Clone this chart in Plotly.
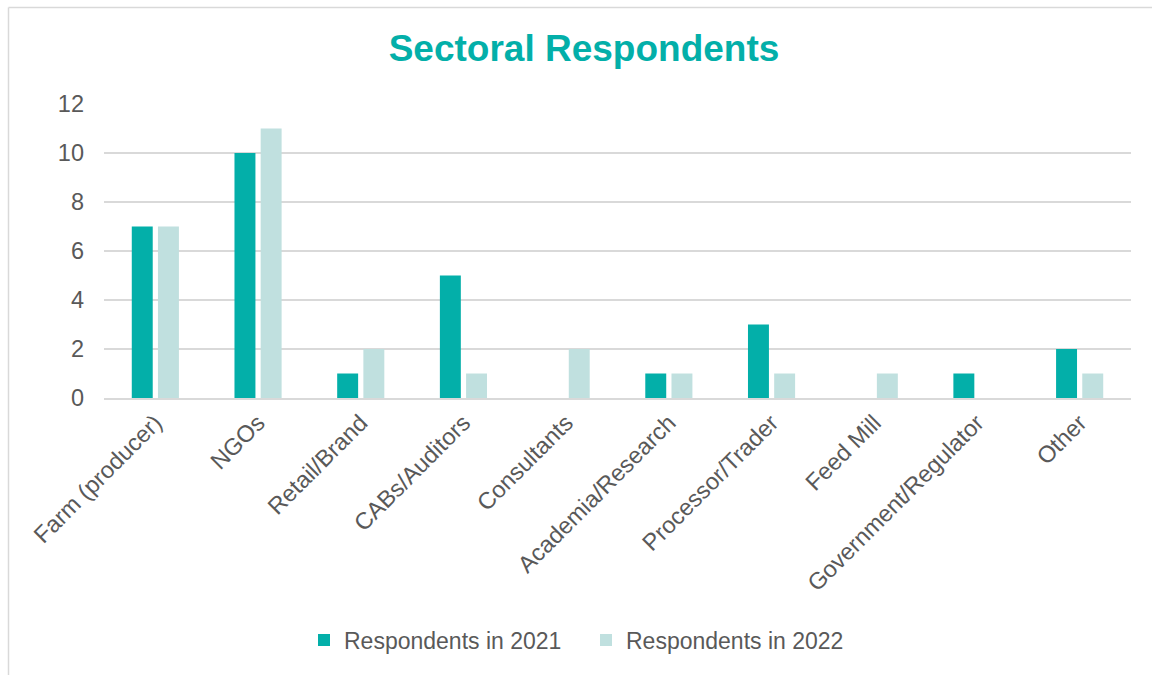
import plotly.graph_objects as go

categories = ["Farm (producer)", "NGOs", "Retail/Brand", "CABs/Auditors", "Consultants",
              "Academia/Research", "Processor/Trader", "Feed Mill", "Government/Regulator", "Other"]
resp_2021 = [7, 10, 1, 5, 0, 1, 3, 0, 1, 2]
resp_2022 = [7, 11, 2, 1, 2, 1, 1, 1, 0, 1]
y_ticks = [0, 2, 4, 6, 8, 10, 12]

W, H = 1152, 675
L, T = 104, 104
R = W - 1131
B = H - 398
pw, ph = W - L - R, H - T - B

fig = go.Figure()
fig.add_trace(go.Bar(x=categories, y=resp_2021, name="Respondents in 2021",
                     marker=dict(color="#03AFA9", line=dict(width=0))))
fig.add_trace(go.Bar(x=categories, y=resp_2022, name="Respondents in 2022",
                     marker=dict(color="#C0E0DF", line=dict(width=0))))

FONT = "Liberation Sans, Arial, sans-serif"
border = dict(color="#D9D9D9", width=1.5)
bx = (8.5 - L) / pw
by_top = (T + ph - 7.5) / ph
fig.update_layout(
    width=W, height=H,
    margin=dict(l=L, r=R, t=T, b=B, autoexpand=False),
    paper_bgcolor="white", plot_bgcolor="white",
    font=dict(family=FONT, color="#595959", size=23),
    title=dict(text="<b>Sectoral Respondents</b>", x=584 / W, xanchor="center",
               y=1 - 48 / H, yanchor="middle",
               font=dict(size=37, color="#03AFA9", family=FONT)),
    barmode="group", bargap=0.49, bargroupgap=0.2,
    xaxis=dict(tickangle=-45, showgrid=False, showline=True, linecolor="#D9D9D9",
               linewidth=1.5, ticks="", tickfont=dict(size=23.5)),
    yaxis=dict(range=[0, 12], tickvals=y_ticks, showgrid=True, gridcolor="#D9D9D9",
               gridwidth=1.5, zeroline=False, showline=False, ticks="",
               ticklabelstandoff=19, tickfont=dict(size=23.5)),
    legend=dict(orientation="h", xref="container", x=304 / W, xanchor="left",
                yref="container", y=1 - 640 / H, yanchor="middle",
                font=dict(size=23), itemwidth=30, traceorder="normal",
                entrywidth=237, entrywidthmode="pixels"),
    shapes=[
        dict(type="line", xref="paper", yref="paper", x0=bx, x1=bx,
             y0=-(H + 20 - (T + ph)) / ph, y1=by_top, line=border, layer="below"),
        dict(type="line", xref="paper", yref="paper", x0=bx, x1=(W + 20 - L) / pw,
             y0=by_top, y1=by_top, line=border, layer="below"),
    ],
)

fig.write_html(
    "out.html",
    config={"displayModeBar": False},
    post_script="document.body.style.margin='0';document.body.style.overflow='hidden';",
)
